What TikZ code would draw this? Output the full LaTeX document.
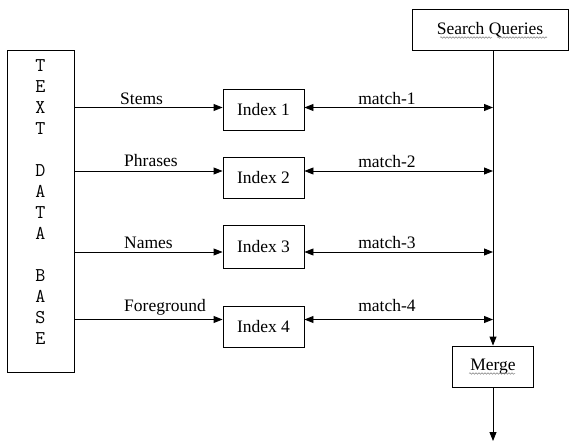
\documentclass[tikz,border=0pt]{standalone}
\usepackage{fontspec}
\setmainfont{Liberation Serif}
\usetikzlibrary{arrows.meta,decorations.pathmorphing}
\begin{document}
\begin{tikzpicture}[x=1pt,y=-1pt,
  lbl/.style={font=\fontsize{17.5}{20}\selectfont, inner sep=0pt},
  box/.style={draw, line width=0.9pt, minimum width=81pt, minimum height=41pt, inner sep=0pt, font=\fontsize{17.5}{20}\selectfont},
  conn/.style={line width=0.9pt, -{Triangle[length=9pt,width=7pt]}},
  bicon/.style={line width=0.9pt, {Triangle[length=9pt,width=7pt]}-{Triangle[length=9pt,width=7pt]}},
  wavy/.style={gray, line width=0.5pt, decorate, decoration={snake, amplitude=0.8pt, segment length=3pt}}]
\useasboundingbox (0,0) rectangle (569,442);

% Text data base
\node[draw, line width=0.9pt, minimum width=67pt, minimum height=322pt, inner sep=0pt] (db) at (40.5,211) {};
\node[align=center, inner sep=0pt, font=\ttfamily\fontsize{19.5}{21}\selectfont] (dbtext) at (40.5,202)
  {T\\E\\X\\T\\\strut\\D\\A\\T\\A\\\strut\\B\\A\\S\\E};

% Index boxes
\node[box] (idx1) at (263.5,110) {Index 1};
\node[box] (idx2) at (263.5,177.5) {Index 2};
\node[box, minimum height=43pt] (idx3) at (263.5,246.5) {Index 3};
\node[box] (idx4) at (263.5,326.5) {Index 4};

% Search queries and merge
\node[box, minimum width=156pt] (sq) at (490,29.5) {Search Queries};
\node[box] (merge) at (493,366.5) {Merge};

% bus coordinates
\coordinate (r1) at (493,107.5);
\coordinate (r2) at (493,171);
\coordinate (r3) at (493,252);
\coordinate (r4) at (493,319.5);
\coordinate (out) at (493,441);

% connectors from data base
\draw[conn] (db.east |- r1) -- (idx1.west |- r1);
\draw[conn] (db.east |- r2) -- (idx2.west |- r2);
\draw[conn] (db.east |- r3) -- (idx3.west |- r3);
\draw[conn] (db.east |- r4) -- (idx4.west |- r4);

% match connectors
\draw[bicon] (idx1.east |- r1) -- (r1);
\draw[bicon] (idx2.east |- r2) -- (r2);
\draw[bicon] (idx3.east |- r3) -- (r3);
\draw[bicon] (idx4.east |- r4) -- (r4);

% bus and output
\draw[conn] (sq.south -| merge.north) -- (merge.north);
\draw[conn] (merge.south) -- (out);

% labels
\node[lbl, anchor=base west] (lstems) at (120,104) {Stems};
\node[lbl, anchor=base west] (lphr) at (124,166) {Phrases};
\node[lbl, anchor=base west] (lnames) at (124,248.5) {Names};
\node[lbl, anchor=base west] (lfore) at (124,311.5) {Foreground};
\node[lbl, anchor=base] (lm1) at (387,104.5) {match-1};
\node[lbl, anchor=base] (lm2) at (387,167) {match-2};
\node[lbl, anchor=base] (lm3) at (387,248.5) {match-3};
\node[lbl, anchor=base] (lm4) at (387,311.5) {match-4};

% spell-check wavy underlines
\draw[wavy] (440,37.5) -- (492,37.5);
\draw[wavy] (497,37.5) -- (547,37.5);
\draw[wavy] (469,373.5) -- (515,373.5);
\end{tikzpicture}
\end{document}
